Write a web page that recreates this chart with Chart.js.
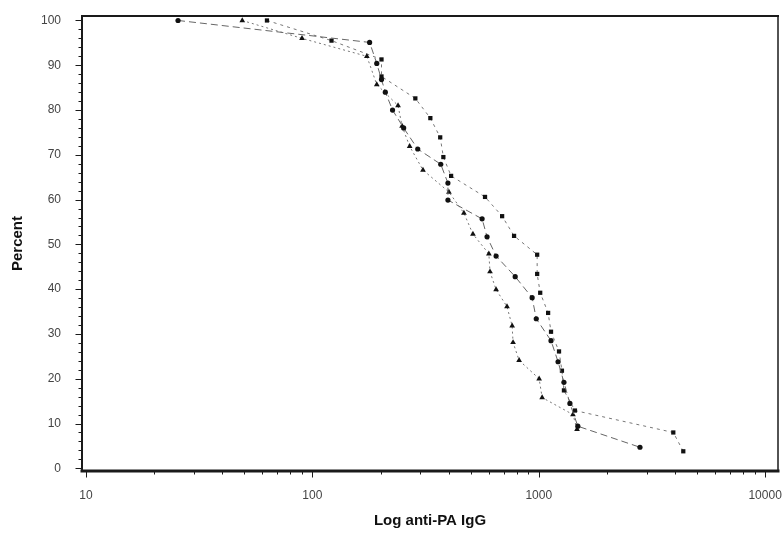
<!DOCTYPE html>
<html>
<head>
<meta charset="utf-8">
<script src="https://cdn.jsdelivr.net/npm/chart.js@4"></script>
<style>
  html, body { margin: 0; padding: 0; background: #fff; }
  #wrap { width: 783px; height: 544px; }
</style>
</head>
<body>
<div id="wrap"><canvas id="myChart"></canvas></div>
<script>
// values (x = anti-PA IgG, y = percent)
const dotX = [25.5, 179, 192.5, 202, 210, 226, 253, 292, 369, 397, 397, 562, 591, 648, 787, 935, 975, 1133, 1217, 1292, 1373, 1488, 2800];
const dotY = [100, 95.1, 90.4, 86.8, 84, 80, 76, 71.3, 67.9, 63.7, 59.9, 55.7, 51.7, 47.4, 42.8, 38.1, 33.4, 28.5, 23.8, 19.2, 14.5, 9.4, 4.7];

const triX = [49, 90, 174, 192.5, 239, 249, 269, 308, 401, 467, 512, 602, 609, 648, 724, 763, 770, 819, 1004, 1035, 1416, 1476];
const triY = [100, 96, 92, 85.7, 81, 76.4, 71.9, 66.6, 61.7, 57, 52.3, 47.9, 43.9, 39.9, 36.1, 31.8, 28.1, 24.1, 20, 15.8, 12, 8.7];

const sqX = [63, 121.5, 202, 202, 285, 332, 367, 379, 410, 579, 689, 778, 984, 984, 1015, 1100, 1133, 1229, 1266, 1292, 1445, 3930, 4350];
const sqY = [100, 95.5, 91.3, 87.5, 82.6, 78.2, 73.9, 69.5, 65.3, 60.6, 56.3, 51.9, 47.7, 43.4, 39.2, 34.7, 30.5, 26.1, 21.8, 17.4, 12.9, 8, 3.8];

const xTicks = [10, 100, 1000, 10000];
const yTicks = [0, 10, 20, 30, 40, 50, 60, 70, 80, 90, 100];

function pts(xs, ys) {
    return xs.map((v, i) => ({ x: v, y: ys[i] }));
}

// frame + outside tick marks (major and minor)
const frameTicks = {
    id: 'frameTicks',
    afterDraw(chart) {
        const ctx = chart.ctx;
        const { left, right, top, bottom } = chart.chartArea;
        const x = chart.scales.x, y = chart.scales.y;
        ctx.save();
        ctx.strokeStyle = '#1a1a1a';
        ctx.lineCap = 'square';
        ctx.lineWidth = 1;
        for (let v = 0; v <= 100; v += 2) {
            const py = Math.round(y.getPixelForValue(v)) + 0.5;
            const len = v % 10 === 0 ? 6 : 3;
            ctx.beginPath();
            ctx.moveTo(left - len, py);
            ctx.lineTo(left, py);
            ctx.stroke();
        }
        for (let d = 10; d <= 10000; d *= 10) {
            for (let m = 1; m <= 9; m++) {
                const v = d * m;
                if (v > 10000) break;
                const px = Math.round(x.getPixelForValue(v)) + 0.5;
                const len = m === 1 ? 6 : 3;
                ctx.beginPath();
                ctx.moveTo(px, bottom);
                ctx.lineTo(px, bottom + len);
                ctx.stroke();
            }
        }
        ctx.lineWidth = 2;
        ctx.beginPath(); ctx.moveTo(left, top); ctx.lineTo(right, top); ctx.stroke();
        ctx.beginPath(); ctx.moveTo(left, top); ctx.lineTo(left, bottom); ctx.stroke();
        ctx.lineWidth = 1.5;
        ctx.beginPath(); ctx.moveTo(right, top); ctx.lineTo(right, bottom); ctx.stroke();
        ctx.lineWidth = 3;
        ctx.beginPath(); ctx.moveTo(left, bottom); ctx.lineTo(right, bottom); ctx.stroke();
        ctx.restore();
    }
};

const ctx = document.getElementById('myChart');

new Chart(ctx, {
    type: 'scatter',
    data: {
        datasets: [{
            label: 'A',
            data: pts(dotX, dotY),
            showLine: true,
            borderColor: '#666',
            borderWidth: 1,
            borderDash: [7, 4],
            pointStyle: 'circle',
            pointRadius: 2.6,
            pointBackgroundColor: '#111',
            pointBorderColor: '#111',
            pointBorderWidth: 0
        }, {
            label: 'B',
            data: pts(triX, triY),
            showLine: true,
            borderColor: '#777',
            borderWidth: 1,
            borderDash: [2, 3],
            pointStyle: 'triangle',
            pointRadius: 3.3,
            pointBackgroundColor: '#111',
            pointBorderColor: '#111',
            pointBorderWidth: 0
        }, {
            label: 'C',
            data: pts(sqX, sqY),
            showLine: true,
            borderColor: '#777',
            borderWidth: 1,
            borderDash: [3, 4],
            pointStyle: 'rect',
            pointRadius: 3,
            pointBackgroundColor: '#111',
            pointBorderColor: '#111',
            pointBorderWidth: 0
        }]
    },
    options: {
        responsive: true,
        maintainAspectRatio: false,
        animation: false,
        layout: {
            padding: { top: 16, right: 5, left: 0, bottom: 0 }
        },
        plugins: {
            legend: { display: false },
            tooltip: { enabled: false }
        },
        scales: {
            x: {
                type: 'logarithmic',
                min: 9.6,
                max: 11400,
                afterBuildTicks: (scale) => {
                    scale.ticks = xTicks.map(v => ({ value: v }));
                },
                afterFit: (scale) => {
                    scale.height = 73;
                    scale.paddingLeft = 0;
                    scale.paddingRight = 0;
                },
                grid: { display: false },
                border: { display: false },
                ticks: {
                    autoSkip: false,
                    maxRotation: 0,
                    padding: 9,
                    color: '#444',
                    font: { family: 'Liberation Sans, Arial', size: 12 },
                    callback: (v) => String(v)
                },
                title: {
                    display: true,
                    text: 'Log anti-PA IgG',
                    color: '#111',
                    font: { family: 'Liberation Sans, Arial', size: 15, weight: 'bold' },
                    padding: { top: 0, bottom: 14 }
                }
            },
            y: {
                min: -0.6,
                max: 101,
                afterBuildTicks: (scale) => {
                    scale.ticks = yTicks.map(v => ({ value: v }));
                },
                afterFit: (scale) => {
                    scale.width = 82;
                    scale.paddingTop = 0;
                    scale.paddingBottom = 0;
                },
                grid: { display: false },
                border: { display: false },
                ticks: {
                    padding: 13,
                    color: '#444',
                    font: { family: 'Liberation Sans, Arial', size: 12 }
                },
                title: {
                    display: true,
                    text: 'Percent',
                    color: '#111',
                    font: { family: 'Liberation Sans, Arial', size: 15, weight: 'bold' },
                    padding: { top: 9, bottom: 0 }
                }
            }
        }
    },
    plugins: [frameTicks]
});
</script>
</body>
</html>
